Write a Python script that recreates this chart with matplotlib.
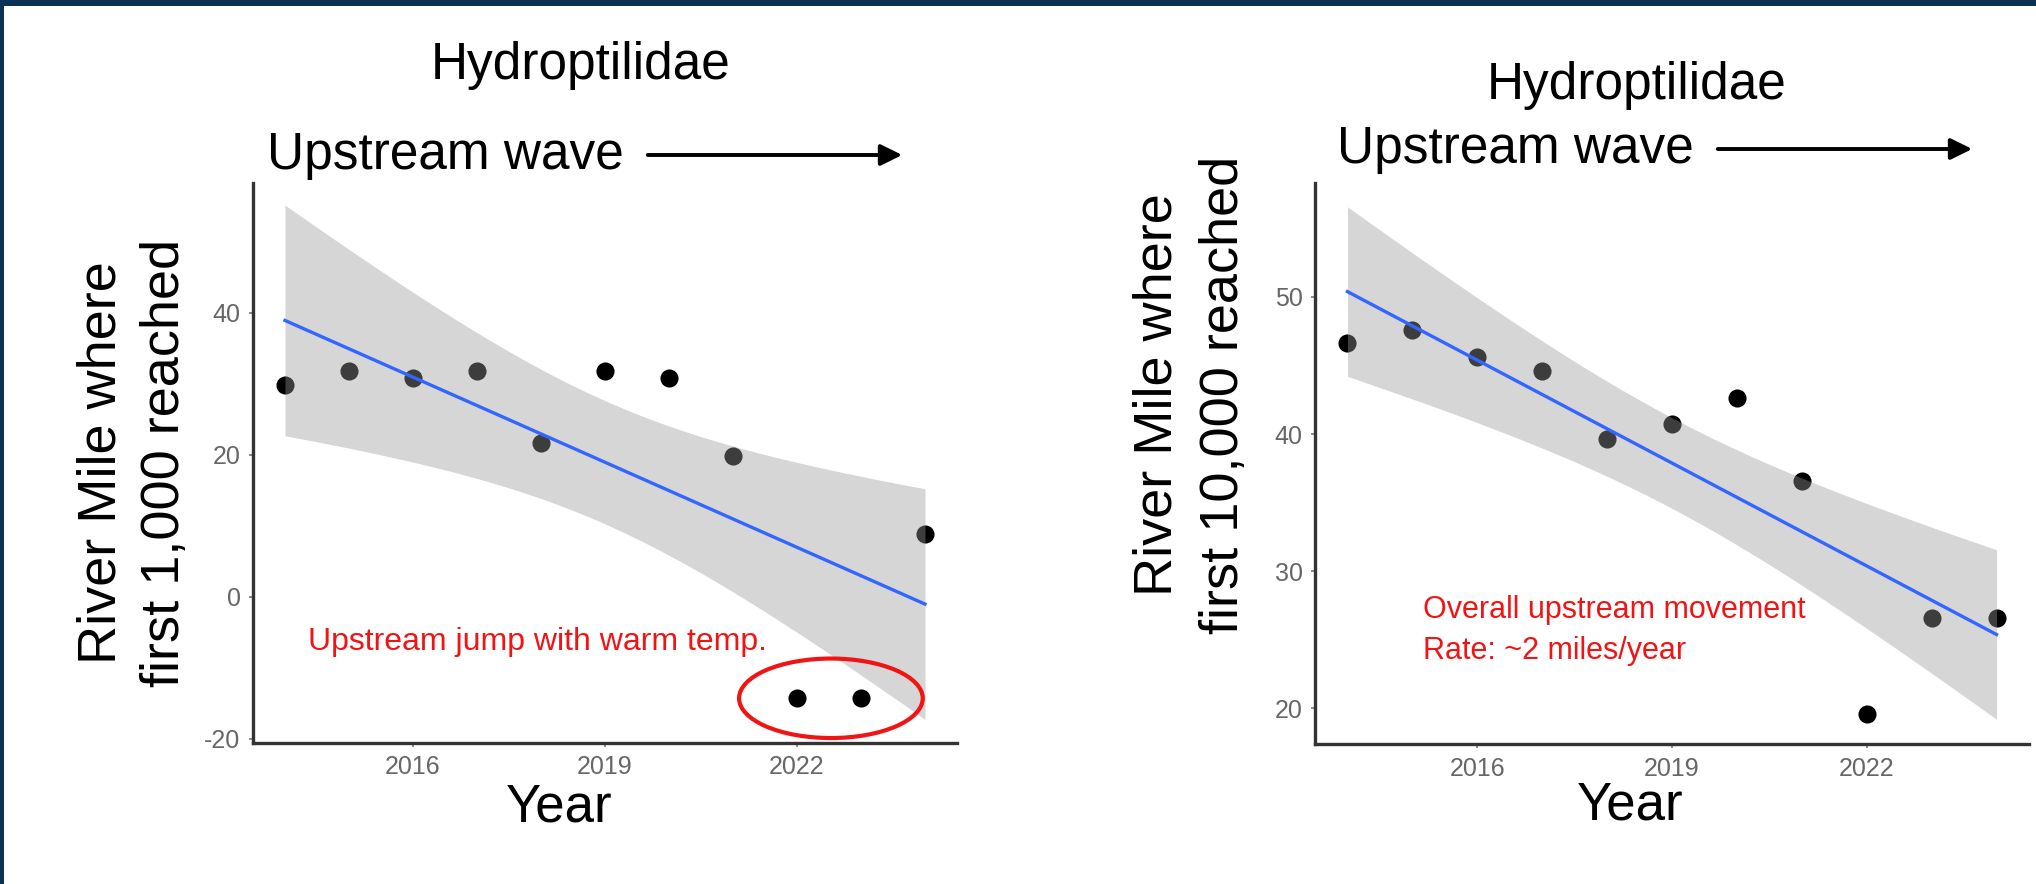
import matplotlib
matplotlib.use('Agg')
import matplotlib.pyplot as plt
import numpy as np
from matplotlib.patches import Ellipse, FancyArrowPatch, Rectangle

plt.rcParams['font.family'] = ['Liberation Sans', 'DejaVu Sans']
plt.rcParams['axes.unicode_minus'] = False

W, H = 2036, 884

YEARS     = [2014, 2015, 2016, 2017, 2018, 2019, 2020, 2021, 2022, 2023, 2024]
RM_1000   = [29.8, 31.8, 30.8, 31.8, 21.7, 31.8, 30.8, 19.8, -14.3, -14.3, 8.8]
RM_10000  = [46.6, 47.6, 45.6, 44.6, 39.6, 40.7, 42.6, 36.6, 19.6, 26.6, 26.6]
XTICKS    = [2016, 2019, 2022]
YTICKS_L  = [-20, 0, 20, 40]
YTICKS_R  = [20, 30, 40, 50]

TITLE     = "Hydroptilidae"
WAVE      = "Upstream wave"
YLAB_L    = ["River Mile where", "first 1,000 reached"]
YLAB_R    = ["River Mile where", "first 10,000 reached"]
NOTE_L    = "Upstream jump with warm temp."
NOTE_R    = ["Overall upstream movement", "Rate: ~2 miles/year"]

T_CRIT = 2.262   # t(0.975, df=9) for the 95% band of geom_smooth(method="lm")

NAVY = "#0c3155"
RED  = "#f01414"


def fx(x):
    return x / W


def fy(y):
    return 1 - y / H


def lm_band(x, y, grid):
    x = np.asarray(x, float)
    y = np.asarray(y, float)
    slope, inter = np.polyfit(x, y, 1)
    fit = inter + slope * grid
    resid = y - (inter + slope * x)
    s = np.sqrt(np.sum(resid ** 2) / (len(x) - 2))
    se = s * np.sqrt(1 / len(x) + (grid - x.mean()) ** 2 / np.sum((x - x.mean()) ** 2))
    return fit, fit - T_CRIT * se, fit + T_CRIT * se


def draw_panel(ax, x, y, yticks, ylim):
    grid = np.linspace(min(x), max(x), 120)
    fit, lo, hi = lm_band(x, y, grid)
    ax.scatter(x, y, s=170, color="black", zorder=2, linewidths=0)
    ax.fill_between(grid, lo, hi, color="#999999", alpha=0.4, linewidth=0, zorder=3)
    ax.plot(grid, fit, color="#3366FF", lw=2.4, zorder=4)

    ax.set_xlim(2013.5, 2024.5)
    ax.set_ylim(*ylim)
    ax.set_xticks(XTICKS)
    ax.set_yticks(yticks)
    for side in ("top", "right"):
        ax.spines[side].set_visible(False)
    for side in ("left", "bottom"):
        ax.spines[side].set_linewidth(2.4)
        ax.spines[side].set_color("#333333")
    ax.tick_params(length=3, width=1.2, color="#777777", labelsize=18,
                   labelcolor="#666666", pad=6)


def header(cx_title, y_title, x_wave, y_wave, x_arrow0, x_arrow1, fig):
    fig.text(fx(cx_title), fy(y_title), TITLE, fontsize=37, ha="center", va="center")
    fig.text(fx(x_wave), fy(y_wave), WAVE, fontsize=37, ha="left", va="center")
    fig.add_artist(FancyArrowPatch((fx(x_arrow0), fy(y_wave)), (fx(x_arrow1), fy(y_wave)),
                                   transform=fig.transFigure,
                                   arrowstyle="-|>,head_length=0.65,head_width=0.32",
                                   mutation_scale=20, lw=2.8, color="black"))


def main():
    fig = plt.figure(figsize=(W / 100, H / 100), dpi=100)
    fig.patch.set_facecolor("white")

    # cadre bleu (haut + gauche)
    fig.add_artist(Rectangle((0, fy(6)), 1, fy(0) - fy(6), transform=fig.transFigure,
                             color=NAVY, lw=0))
    fig.add_artist(Rectangle((0, 0), fx(4), 1, transform=fig.transFigure,
                             color=NAVY, lw=0))

    # ── panneau gauche : premier 1,000 ─────────────────────────
    ax1 = fig.add_axes([fx(253), fy(743), fx(957 - 253), (743 - 183) / H])
    draw_panel(ax1, YEARS, RM_1000, YTICKS_L, (-20.6, 58.3))
    ax1.text(2014.36, -6.3, NOTE_L, color=RED, fontsize=23, ha="left", va="center")
    ax1.add_patch(Ellipse((2022.53, -14.3), 2.87, 11.2, fill=False, edgecolor=RED,
                          lw=3, zorder=5, clip_on=False))
    header(581, 65, 267, 155, 645, 905, fig)
    fig.text(fx(102), fy(463), YLAB_L[0], fontsize=39, rotation=90, ha="center", va="center")
    fig.text(fx(165), fy(463), YLAB_L[1], fontsize=39, rotation=90, ha="center", va="center")
    fig.text(fx(559), fy(808), "Year", fontsize=38, ha="center", va="center")

    # ── panneau droit : premier 10,000 ─────────────────────────
    ax2 = fig.add_axes([fx(1315), fy(744), fx(2029 - 1315), (744 - 183) / H])
    draw_panel(ax2, YEARS, RM_10000, YTICKS_R, (17.4, 58.3))
    ax2.text(2015.17, 27.2, NOTE_R[0], color=RED, fontsize=22, ha="left", va="center")
    ax2.text(2015.17, 24.2, NOTE_R[1], color=RED, fontsize=22, ha="left", va="center")
    header(1637, 85, 1337, 149, 1715, 1975, fig)
    fig.text(fx(1157), fy(395), YLAB_R[0], fontsize=39, rotation=90, ha="center", va="center")
    fig.text(fx(1224), fy(395), YLAB_R[1], fontsize=39, rotation=90, ha="center", va="center")
    fig.text(fx(1630), fy(806), "Year", fontsize=38, ha="center", va="center")

    fig.savefig("out.png", dpi=100)
    plt.close(fig)


if __name__ == "__main__":
    main()
